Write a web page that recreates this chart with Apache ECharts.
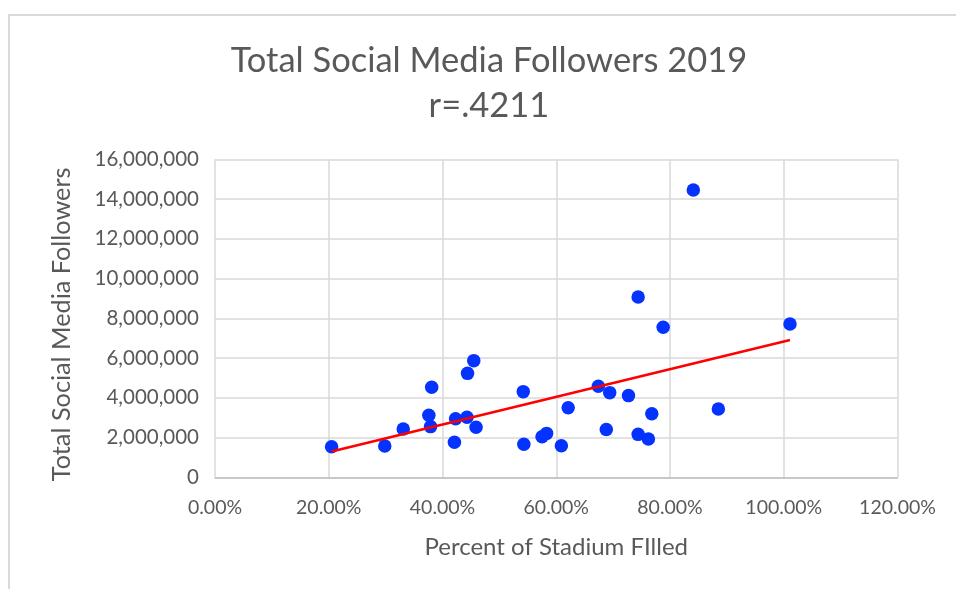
<!DOCTYPE html>
<html>
<head>
<meta charset="utf-8">
<script src="https://cdn.jsdelivr.net/npm/echarts@6/dist/echarts.min.js"></script>
<style>
html,body{margin:0;padding:0;background:#fff;}
#chart{width:956px;height:589px;}
</style>
</head>
<body>
<div id="chart"></div>
<script>
// Percent of stadium filled (fraction)
const percentFilled = [0.205,0.2985,0.331,0.381,0.376,0.379,0.421,0.423,0.443,0.459,0.444,0.455,0.542,0.543,0.575,0.583,0.609,0.621,0.674,0.694,0.688,0.727,0.744,0.744,0.762,0.768,0.788,0.841,0.885,1.011];
// Total social media followers
const followers = [1540000,1570000,2430000,4530000,3120000,2550000,1760000,2950000,3020000,2520000,5230000,5870000,4310000,1660000,2040000,2210000,1590000,3500000,4580000,4260000,2400000,4110000,9070000,2160000,1930000,3200000,7550000,14460000,3440000,7710000];
const titleLines = ['Total Social Media Followers 2019','r=.4211'];
const xAxisName = 'Percent of Stadium FIlled';
const yAxisName = 'Total Social Media Followers';

// Linear (least squares) trendline, as Excel computes it
const n = percentFilled.length;
let sx=0, sy=0, sxx=0, sxy=0;
for (let i=0;i<n;i++){sx+=percentFilled[i];sy+=followers[i];sxx+=percentFilled[i]*percentFilled[i];sxy+=percentFilled[i]*followers[i];}
const slope = (n*sxy - sx*sy)/(n*sxx - sx*sx);
const intercept = (sy - slope*sx)/n;
const xMin = Math.min(...percentFilled), xMax = Math.max(...percentFilled);
const trend = [[xMin, intercept+slope*xMin],[xMax, intercept+slope*xMax]];

const FONT = 'Lato';
const chart = echarts.init(document.getElementById('chart'));
chart.setOption({
  animation:false,
  backgroundColor:'#fff',
  textStyle:{fontFamily:FONT},
  graphic:[{type:'rect',shape:{x:9,y:15,width:960,height:600},style:{fill:'none',stroke:'#d9d9d9',lineWidth:2},silent:true}],
  title:{
    text: titleLines.join('\n'),
    left:489, top:38, padding:0,
    textAlign:'center',
    textStyle:{fontFamily:FONT,fontSize:34.5,fontWeight:'normal',color:'#595959',lineHeight:45}
  },
  grid:{left:215,right:58.5,top:159.3,bottom:111.7},
  xAxis:{
    type:'value', min:0, max:1.2, interval:0.2,
    name:xAxisName, nameLocation:'middle', nameGap:58,
    nameTextStyle:{fontFamily:FONT,fontSize:24,color:'#595959'},
    axisLine:{show:true,lineStyle:{color:'#bfbfbf',width:1.5}},
    axisTick:{show:false},
    axisLabel:{margin:20,fontSize:19.5,color:'#595959',formatter:v=>(v*100).toFixed(2)+'%'},
    splitLine:{show:true,lineStyle:{color:'#d9d9d9',width:1.5}}
  },
  yAxis:{
    type:'value', min:0, max:16000000, interval:2000000,
    name:yAxisName, nameLocation:'middle', nameGap:141, nameRotate:90,
    nameTextStyle:{fontFamily:FONT,fontSize:25.3,color:'#595959',padding:[0,12,0,0]},
    axisLine:{show:false},
    axisTick:{show:false},
    axisLabel:{margin:16,fontSize:20.5,color:'#595959',formatter:v=>v.toLocaleString('en-US')},
    splitLine:{show:true,lineStyle:{color:'#d9d9d9',width:1.5}}
  },
  series:[
    {type:'scatter',data:percentFilled.map((x,i)=>[x,followers[i]]),symbolSize:13.5,itemStyle:{color:'#0433FF',opacity:1},z:3},
    {type:'line',data:trend,showSymbol:false,symbol:'none',lineStyle:{color:'#FF0000',width:2.5},z:4}
  ]
});
</script>
</body>
</html>
